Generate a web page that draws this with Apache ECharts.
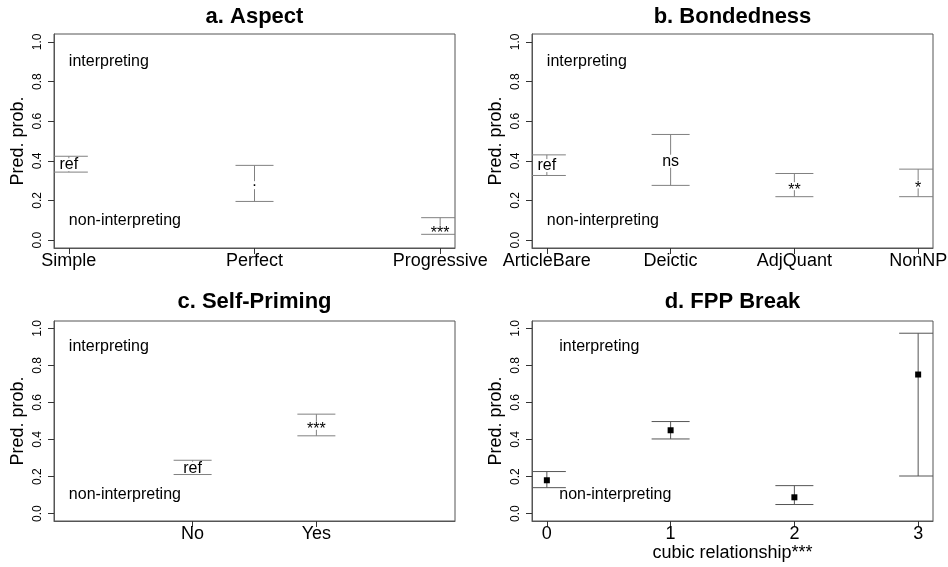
<!DOCTYPE html>
<html>
<head>
<meta charset="utf-8">
<script src="https://cdn.jsdelivr.net/npm/echarts@6/dist/echarts.min.js"></script>
<style>html,body{margin:0;padding:0;background:#fff;}#c{width:948px;height:567px;}</style>
</head>
<body>
<div id="c"></div>
<script>
// ---- data ----
const yTicks = [0, 0.2, 0.4, 0.6, 0.8, 1.0];

const aspectCats = ['Simple', 'Perfect', 'Progressive'];
const aspectX = [1, 2, 3];
const aspectFit = [0.38, 0.277, 0.052];
const aspectLower = [0.343, 0.195, 0.029];
const aspectUpper = [0.423, 0.377, 0.113];
const aspectSig = ['ref', '.', '***'];

const bondCats = ['ArticleBare', 'Deictic', 'AdjQuant', 'NonNP'];
const bondX = [1, 2, 3, 4];
const bondFit = [0.376, 0.398, 0.272, 0.281];
const bondLower = [0.326, 0.276, 0.219, 0.219];
const bondUpper = [0.430, 0.533, 0.336, 0.358];
const bondSig = ['ref', 'ns', '**', '*'];

const primeCats = ['No', 'Yes'];
const primeX = [1, 2];
const primeFit = [0.245, 0.474];
const primeLower = [0.211, 0.420];
const primeUpper = [0.288, 0.537];
const primeSig = ['ref', '***'];

const fppCats = ['0', '1', '2', '3'];
const fppX = [0, 1, 2, 3];
const fppFit = [0.180, 0.450, 0.088, 0.751];
const fppLower = [0.140, 0.403, 0.049, 0.203];
const fppUpper = [0.227, 0.497, 0.151, 0.974];

const titles = ['a. Aspect', 'b. Bondedness', 'c. Self-Priming', 'd. FPP Break'];
const annotTexts = ['interpreting', 'non-interpreting'];
const annotY = [0.9, 0.1];
const annotX = [1, 1, 0, 0.1]; // per panel x where annotation text starts

// ---- layout / style ----
const FONT = '"Liberation Sans", Arial, Helvetica, sans-serif';
const grids = [
  {left: 54, top: 34, width: 401, height: 214},
  {left: 532, top: 34, width: 401, height: 214},
  {left: 54, top: 321, width: 401, height: 200},
  {left: 532, top: 321, width: 401, height: 200}
];
const xRanges = [[0.92, 3.08], [0.88, 4.12], [-0.12, 3.12], [-0.12, 3.12]];
const panelCats = [aspectCats, bondCats, primeCats, fppCats];
const panelX = [aspectX, bondX, primeX, fppX];

function zip(xs, f, lo, hi) { return xs.map((x, i) => [x, f[i], lo[i], hi[i]]); }

function makeErr(sigArr, color, squares) {
  return function (params, api) {
    const x = api.value(0), f = api.value(1), lo = api.value(2), hi = api.value(3);
    const pf = api.coord([x, f]), pl = api.coord([x, lo]), ph = api.coord([x, hi]);
    const hw = 19;
    const ls = {stroke: color, lineWidth: 1};
    const ch = [
      {type: 'line', shape: {x1: pf[0] - hw, y1: ph[1], x2: pf[0] + hw, y2: ph[1]}, style: ls},
      {type: 'line', shape: {x1: pf[0] - hw, y1: pl[1], x2: pf[0] + hw, y2: pl[1]}, style: ls}
    ];
    if (squares) {
      ch.push({type: 'line', shape: {x1: pf[0], y1: ph[1], x2: pf[0], y2: pl[1]}, style: ls});
      ch.push({type: 'rect', shape: {x: pf[0] - 3, y: pf[1] - 3, width: 6, height: 6}, style: {fill: '#000'}});
    } else {
      const lab = sigArr[params.dataIndex];
      const small = /^[*.]+$/.test(lab);
      const gap = small ? 4 : 6.5;
      if (pf[1] - gap > ph[1]) ch.push({type: 'line', shape: {x1: pf[0], y1: ph[1], x2: pf[0], y2: pf[1] - gap}, style: ls});
      if (pl[1] > pf[1] + gap) ch.push({type: 'line', shape: {x1: pf[0], y1: pf[1] + gap, x2: pf[0], y2: pl[1]}, style: ls});
      const dy = /^\*+$/.test(lab) ? 4 : (lab === '.' ? -4 : 0);
      ch.push({type: 'text', x: pf[0], y: pf[1] + dy, style: {text: lab, font: '16px ' + FONT, fill: '#000', textAlign: 'center', textVerticalAlign: 'middle'}});
    }
    return {type: 'group', children: ch};
  };
}

function annotRender(params, api) {
  const p = api.coord([api.value(0), api.value(1)]);
  return {type: 'text', x: p[0], y: p[1], style: {text: annotTexts[params.dataIndex], font: '16px ' + FONT, fill: '#000', textAlign: 'left', textVerticalAlign: 'middle'}};
}

const chart = echarts.init(document.getElementById('c'), null, {renderer: 'canvas'});

const xAxes = [], yAxes = [], series = [], graphics = [];
for (let i = 0; i < 4; i++) {
  const cats = panelCats[i], xs = panelX[i];
  xAxes.push({
    type: 'value', gridIndex: i, min: xRanges[i][0], max: xRanges[i][1], position: 'bottom',
    axisLine: {show: true, onZero: false, lineStyle: {color: '#555', width: 1}}, splitLine: {show: false},
    axisTick: {show: true, length: 6, lineStyle: {color: '#333', width: 1}, customValues: xs},
    axisLabel: {show: true, customValues: xs, margin: 4, fontSize: 18, fontFamily: FONT, color: '#000',
      formatter: v => { const k = xs.indexOf(v); return k >= 0 ? cats[k] : ''; }},
    name: i === 3 ? 'cubic relationship***' : '', nameLocation: 'middle', nameGap: 18,
    nameTextStyle: {fontSize: 18, fontFamily: FONT, color: '#000'}
  });
  yAxes.push({
    type: 'value', gridIndex: i, min: -0.04, max: 1.04, position: 'left',
    axisLine: {show: true, onZero: false, lineStyle: {color: '#555', width: 1}}, splitLine: {show: false},
    axisTick: {show: true, length: 6, lineStyle: {color: '#333', width: 1}, customValues: yTicks},
    axisLabel: {show: true, customValues: yTicks, rotate: 90, margin: 10, fontSize: 12, fontFamily: FONT, color: '#000',
      formatter: v => v.toFixed(1)},
    name: 'Pred. prob.', nameLocation: 'middle', nameRotate: 90, nameGap: 27,
    nameTextStyle: {fontSize: 18, fontFamily: FONT, color: '#000'}
  });
  series.push({
    type: 'custom', xAxisIndex: i, yAxisIndex: i, clip: false, silent: true,
    data: annotY.map(y => [annotX[i], y]),
    renderItem: annotRender
  });
  const g = grids[i];
  graphics.push({type: 'text', x: g.left + g.width / 2, y: i < 2 ? 16.7 : 302.3,
    style: {text: titles[i], font: 'bold 22px ' + FONT, fill: '#000', textAlign: 'center', textVerticalAlign: 'middle'}});
}

series.push({type: 'custom', xAxisIndex: 0, yAxisIndex: 0, clip: true, silent: true,
  data: zip(aspectX, aspectFit, aspectLower, aspectUpper), renderItem: makeErr(aspectSig, '#808080', false)});
series.push({type: 'custom', xAxisIndex: 1, yAxisIndex: 1, clip: true, silent: true,
  data: zip(bondX, bondFit, bondLower, bondUpper), renderItem: makeErr(bondSig, '#808080', false)});
series.push({type: 'custom', xAxisIndex: 2, yAxisIndex: 2, clip: true, silent: true,
  data: zip(primeX, primeFit, primeLower, primeUpper), renderItem: makeErr(primeSig, '#808080', false)});
series.push({type: 'custom', xAxisIndex: 3, yAxisIndex: 3, clip: true, silent: true,
  data: zip(fppX, fppFit, fppLower, fppUpper), renderItem: makeErr(null, '#555', true)});

chart.setOption({
  animation: false,
  backgroundColor: '#fff',
  grid: grids.map(g => Object.assign({show: true, borderColor: '#555', borderWidth: 1, backgroundColor: 'transparent', containLabel: false, outerBoundsMode: 'none'}, g)),
  xAxis: xAxes,
  yAxis: yAxes,
  series: series,
  graphic: graphics
});
</script>
</body>
</html>
